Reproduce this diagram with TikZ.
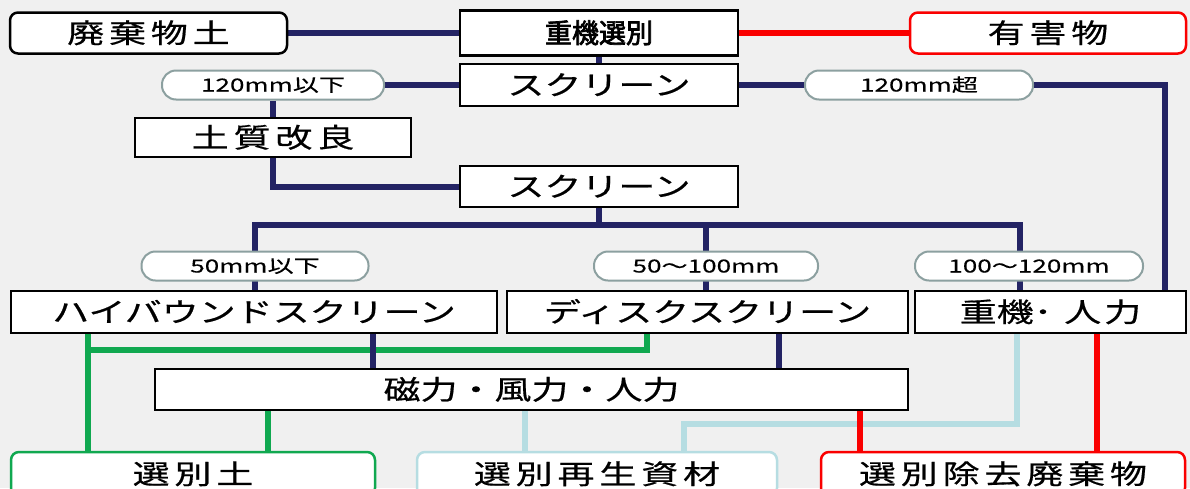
\documentclass[tikz,border=0pt]{standalone}
\usepackage{fontspec}
\newfontfamily\jp[FakeStretch=1.37,FakeBold=0.6]{Noto Sans CJK JP}
\newfontfamily\jpsp[FakeStretch=1.37,FakeBold=0.6,LetterSpace=18]{Noto Sans CJK JP}
\newfontfamily\jpnar[FakeStretch=1.0,FakeBold=2.6]{Noto Sans CJK JP}
\newfontfamily\jppill[FakeStretch=1.45,FakeBold=0.3]{Noto Sans CJK JP}
\definecolor{navyc}{RGB}{35,35,100}
\definecolor{redc}{RGB}{250,0,0}
\definecolor{greenc}{RGB}{16,168,80}
\definecolor{lbluec}{RGB}{182,221,226}
\definecolor{pillc}{RGB}{140,160,160}
\definecolor{bgc}{RGB}{240,240,240}
\pgfdeclarelayer{lines}
\pgfsetlayers{lines,main}
\tikzset{
  box/.style={draw=black, line width=2.5pt, fill=white, inner sep=0pt,
    text height=22pt, text depth=2pt, font=\jp\fontsize{27}{30}\selectfont},
  spbox/.style={box, font=\jpsp\fontsize{27}{30}\selectfont},
  rbox/.style={spbox, rounded corners=8pt},
  pill/.style={draw=pillc, line width=2pt, fill=white, rounded corners=14pt,
    inner sep=0pt, minimum height=29pt, text height=14pt, text depth=1pt,
    font=\jppill\fontsize{18}{20}\selectfont},
  navyline/.style={draw=navyc, line width=6pt},
  redline/.style={draw=redc, line width=6pt},
  greenline/.style={draw=greenc, line width=6pt},
  lblueline/.style={draw=lbluec, line width=6pt},
}
\begin{document}
\begin{tikzpicture}[x=1pt,y=-1pt]
\useasboundingbox (0,0) rectangle (1190,488);
\begin{pgfonlayer}{lines}
\fill[bgc] (0,0) rectangle (1190,488);
\end{pgfonlayer}

% nodes
\node[rbox, minimum width=277pt, minimum height=41pt] (haiki) at (148.5,33) {廃棄物土};
\node[box, minimum width=278pt, minimum height=45pt, font=\jpnar\fontsize{27}{30}\selectfont] (juki) at (599,33) {重機選別};
\node[rbox, draw=redc, minimum width=276pt, minimum height=41pt] (yugai) at (1048,33) {有害物};
\node[box, minimum width=278pt, minimum height=42pt] (scr1) at (599,85) {スクリーン};
\node[pill, minimum width=222pt] (p120le) at (273,85) {120mm以下};
\node[pill, minimum width=228pt] (p120gt) at (919,85) {120mm超};
\node[spbox, minimum width=276pt, minimum height=39pt] (dositu) at (273,137.5) {土質改良};
\node[box, minimum width=278pt, minimum height=41pt] (scr2) at (599,186.5) {スクリーン};
\node[pill, minimum width=227pt] (p50) at (255,266) {50mm以下};
\node[pill, minimum width=224pt] (p50100) at (706,266) {50～100mm};
\node[pill, minimum width=228pt] (p100120) at (1029,266) {100～120mm};
\node[box, minimum width=486pt, minimum height=42pt] (hib) at (254,312) {ハイバウンドスクリーン};
\node[box, minimum width=401pt, minimum height=42pt] (disk) at (707.5,312) {ディスクスクリーン};
\node[box, minimum width=271pt, minimum height=42pt] (jukijin) at (1050.5,312) {重機･\hspace{12pt}人\hspace{3pt}力};
\node[box, minimum width=753pt, minimum height=41pt] (jiryoku) at (531.5,389.5) {磁力・風力・人力};
\node[rbox, draw=greenc, minimum width=364pt, minimum height=44pt] (sdo) at (193,474) {選別土};
\node[rbox, draw=lbluec, minimum width=360pt, minimum height=44pt] (saisei) at (597,474) {選別再生資材};
\node[rbox, draw=redc, minimum width=364pt, minimum height=44pt] (jokyo) at (1003,474) {選別除去廃棄物};

% helper coordinates
\coordinate (bus) at (599,225);
\coordinate (xr) at (1165,85);
\coordinate (xa) at (255,0);
\coordinate (xb) at (706,0);
\coordinate (xc) at (1020,0);
\coordinate (g1) at (88,350);
\coordinate (g2) at (647,350);
\coordinate (xg3) at (268,0);
\coordinate (xn1) at (373,0);
\coordinate (xn2) at (779,0);
\coordinate (xl1) at (525,0);
\coordinate (l2) at (1017,424);
\coordinate (l3) at (684,424);
\coordinate (xr1) at (860,0);
\coordinate (xr2) at (1097,0);

\begin{pgfonlayer}{lines}
% top row
\draw[navyline] (haiki.east) -- (juki.west);
\draw[redline] (juki.east) -- (yugai.west);
\draw[navyline] (juki.south) -- (scr1.north);
\draw[navyline] (scr1.west) -- (p120le.east);
\draw[navyline] (p120le.south) -- (dositu.north);
\draw[navyline] (dositu.south) |- (scr2.west);
\draw[navyline] (scr1.east) -- (p120gt.west);
\draw[navyline] (p120gt.east) -- (xr) -- (xr |- jukijin.north);
% second screen bus
\draw[navyline] (scr2.south) -- (bus);
\draw[navyline, line cap=rect] (xa |- hib.north) -- (xa |- bus) -- (xc |- bus) -- (xc |- jukijin.north);
\draw[navyline] (xb |- bus) -- (xb |- disk.north);
% lower part
\draw[greenline] (g1 |- hib.south) -- (g1 |- sdo.north);
\draw[greenline] (g1) -- (g2) -- (g2 |- disk.south);
\draw[greenline] (xg3 |- jiryoku.south) -- (xg3 |- sdo.north);
\draw[navyline] (xn1 |- hib.south) -- (xn1 |- jiryoku.north);
\draw[navyline] (xn2 |- disk.south) -- (xn2 |- jiryoku.north);
\draw[lblueline] (xl1 |- jiryoku.south) -- (xl1 |- saisei.north);
\draw[lblueline] (l2 |- jukijin.south) -- (l2) -- (l3) -- (l3 |- saisei.north);
\draw[redline] (xr1 |- jiryoku.south) -- (xr1 |- jokyo.north);
\draw[redline] (xr2 |- jukijin.south) -- (xr2 |- jokyo.north);
\end{pgfonlayer}
\end{tikzpicture}
\end{document}
